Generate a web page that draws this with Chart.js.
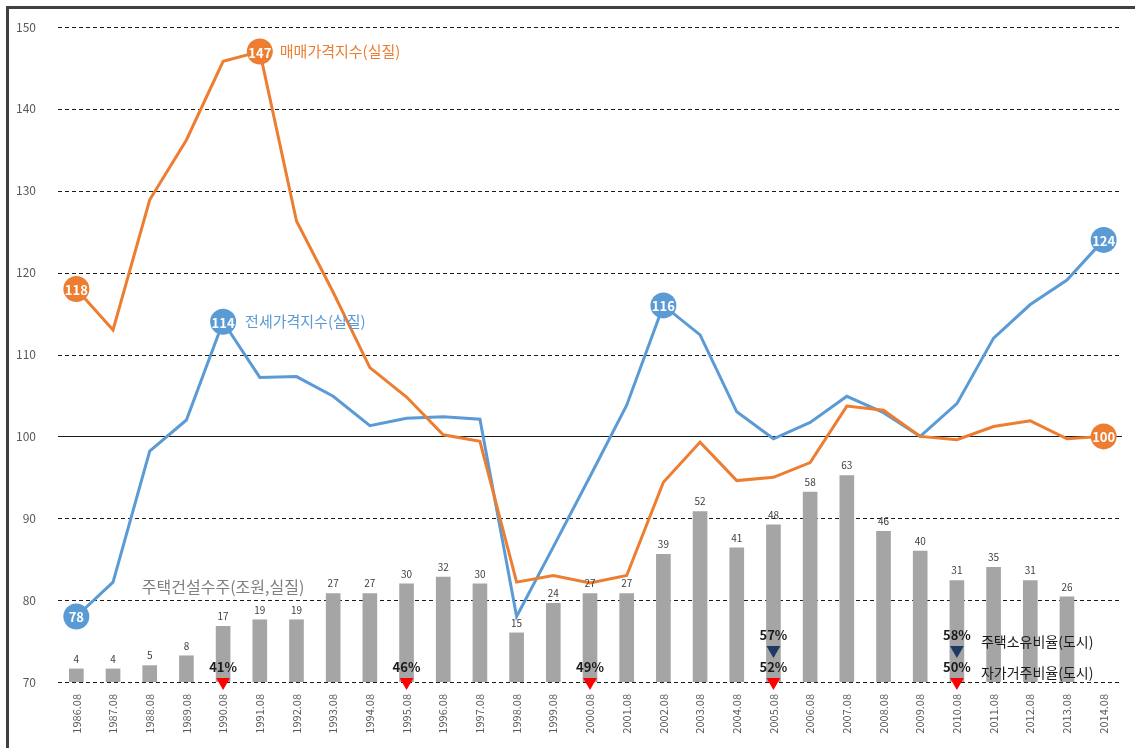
<!DOCTYPE html>
<html>
<head>
<meta charset="utf-8">
<script src="https://cdn.jsdelivr.net/npm/chart.js@4.4.1/dist/chart.umd.min.js"></script>
<style>
    html, body { margin: 0; padding: 0; background: #fff; }
    #wrap { position: relative; width: 1135px; height: 748px; }
</style>
</head>
<body>
<div id="wrap"><canvas id="housingChart"></canvas></div>
<script>
// Data
const years = ['1986.08', '1987.08', '1988.08', '1989.08', '1990.08', '1991.08', '1992.08', '1993.08',
    '1994.08', '1995.08', '1996.08', '1997.08', '1998.08', '1999.08', '2000.08', '2001.08', '2002.08',
    '2003.08', '2004.08', '2005.08', '2006.08', '2007.08', '2008.08', '2009.08', '2010.08', '2011.08',
    '2012.08', '2013.08', '2014.08'];
const saleIndex = [118, 113.0, 128.9, 136.2, 145.8, 147, 126.3, 117.6, 108.4, 104.8, 100.2, 99.4, 82.2,
    83.0, 82.1, 83.0, 94.4, 99.3, 94.6, 95.0, 96.8, 103.7, 103.2, 100.0, 99.6, 101.2, 101.9, 99.7, 100];
const jeonseIndex = [78, 82.2, 98.2, 102.0, 114, 107.2, 107.3, 104.9, 101.3, 102.2, 102.4, 102.1, 78.0,
    86.5, 95.1, 103.8, 116, 112.4, 103.0, 99.7, 101.7, 104.9, 102.9, 100.0, 104.0, 112.0, 116.1, 119.1, 124];
const orders = [4, 4, 5, 8, 17, 19, 19, 27, 27, 30, 32, 30, 15, 24, 27, 27, 39, 52, 41, 48, 58, 63, 46,
    40, 31, 35, 31, 26, null];
const saleMarks = [0, 5, 28];
const jeonseMarks = [0, 4, 16, 28];
const selfOccYears = ['1990.08', '1995.08', '2000.08', '2005.08', '2010.08'];
const selfOccRates = [41, 46, 49, 52, 50];
const ownYears = ['2005.08', '2010.08'];
const ownRates = [57, 58];
const yTicks = [70, 80, 90, 100, 110, 120, 130, 140, 150];

const ORANGE = '#ED7D31';
const BLUE = '#5B9BD5';
const BAR = '#A5A5A5';
const KR = "'Noto Sans CJK KR', 'Noto Sans', sans-serif";

Chart.defaults.font.family = KR;

// grid lines, labels and frame
const annotate = {
    id: 'annotate',
    beforeDatasetsDraw(chart) {
        const { ctx, chartArea, scales } = chart;
        ctx.save();
        yTicks.forEach(v => {
            const y = Math.round(scales.y.getPixelForValue(v)) + 0.5;
            ctx.beginPath();
            ctx.lineWidth = 1;
            ctx.strokeStyle = '#1a1a1a';
            ctx.setLineDash(v === 100 ? [] : [4, 3]);
            ctx.moveTo(chartArea.left, y);
            ctx.lineTo(chartArea.right, y);
            ctx.stroke();
        });
        ctx.restore();
    },
    afterDatasetsDraw(chart) {
        const { ctx, scales } = chart;
        ctx.save();
        ctx.textAlign = 'center';
        ctx.textBaseline = 'middle';

        // bar values
        const barMeta = chart.getDatasetMeta(0);
        ctx.font = '10px ' + KR;
        ctx.fillStyle = '#404040';
        barMeta.data.forEach((el, i) => {
            if (orders[i] == null) return;
            ctx.fillText(orders[i], el.x, el.y - 10);
        });

        // marker values
        const markText = (dsIndex, marks, values) => {
            const meta = chart.getDatasetMeta(dsIndex);
            ctx.font = 'bold 13px ' + KR;
            ctx.fillStyle = '#fff';
            marks.forEach(i => {
                const el = meta.data[i];
                ctx.fillText(Math.round(values[i]), el.x, el.y + 1);
            });
            return meta;
        };
        const saleMeta = markText(1, saleMarks, saleIndex);
        const jeonseMeta = markText(2, jeonseMarks, jeonseIndex);

        // series names
        ctx.textAlign = 'left';
        ctx.font = '15px ' + KR;
        ctx.fillStyle = ORANGE;
        ctx.fillText('매매가격지수(실질)', saleMeta.data[5].x + 20, saleMeta.data[5].y);
        ctx.fillStyle = BLUE;
        ctx.fillText('전세가격지수(실질)', jeonseMeta.data[4].x + 22, jeonseMeta.data[4].y);
        ctx.textAlign = 'center';
        ctx.font = '16px ' + KR;
        ctx.fillStyle = '#7f7f7f';
        ctx.fillText('주택건설수주(조원,실질)', scales.x.getPixelForValue(4), scales.y.getPixelForValue(81.6));

        // ratio triangles
        ctx.font = 'bold 13px ' + KR;
        ctx.fillStyle = '#1a1a1a';
        const selfMeta = chart.getDatasetMeta(3);
        selfMeta.data.forEach((el, i) => ctx.fillText(selfOccRates[i] + '%', el.x, el.y - 15));
        const ownMeta = chart.getDatasetMeta(4);
        ownMeta.data.forEach((el, i) => ctx.fillText(ownRates[i] + '%', el.x, el.y - 15));

        ctx.textAlign = 'left';
        ctx.font = '14px ' + KR;
        const lastOwn = ownMeta.data[ownMeta.data.length - 1];
        const lastSelf = selfMeta.data[selfMeta.data.length - 1];
        ctx.fillText('주택소유비율(도시)', lastOwn.x + 24, lastOwn.y - 8);
        ctx.fillText('자가거주비율(도시)', lastSelf.x + 24, lastSelf.y - 9);

        // frame
        ctx.strokeStyle = '#404040';
        ctx.lineWidth = 3;
        ctx.beginPath();
        ctx.moveTo(7.5, chart.height);
        ctx.lineTo(7.5, 7.5);
        ctx.lineTo(chart.width, 7.5);
        ctx.stroke();
        ctx.restore();
    }
};

const markRadius = marks => c => (marks.includes(c.dataIndex) ? 13 : 0);

new Chart(document.getElementById('housingChart'), {
    data: {
        labels: years,
        datasets: [{
            type: 'bar',
            label: '주택건설수주(조원,실질)',
            data: orders,
            yAxisID: 'y2',
            backgroundColor: BAR,
            barThickness: 14,
            order: 3
        }, {
            type: 'line',
            label: '매매가격지수(실질)',
            data: saleIndex,
            borderColor: ORANGE,
            borderWidth: 3,
            backgroundColor: ORANGE,
            pointRadius: markRadius(saleMarks),
            pointHoverRadius: markRadius(saleMarks),
            pointBorderWidth: 0,
            tension: 0,
            order: 1
        }, {
            type: 'line',
            label: '전세가격지수(실질)',
            data: jeonseIndex,
            borderColor: BLUE,
            borderWidth: 3,
            backgroundColor: BLUE,
            pointRadius: markRadius(jeonseMarks),
            pointHoverRadius: markRadius(jeonseMarks),
            pointBorderWidth: 0,
            tension: 0,
            order: 2
        }, {
            type: 'line',
            label: '자가거주비율(도시)',
            data: selfOccYears.map(x => ({ x, y: 70 })),
            showLine: false,
            pointStyle: 'triangle',
            rotation: 180,
            pointRadius: 8,
            pointBorderWidth: 0,
            backgroundColor: '#FF0000',
            clip: false,
            order: 0
        }, {
            type: 'line',
            label: '주택소유비율(도시)',
            data: ownYears.map(x => ({ x, y: 73.9 })),
            showLine: false,
            pointStyle: 'triangle',
            rotation: 180,
            pointRadius: 8,
            pointBorderWidth: 0,
            backgroundColor: '#1F3864',
            clip: false,
            order: 0
        }]
    },
    options: {
        responsive: true,
        maintainAspectRatio: false,
        animation: false,
        layout: { padding: { top: 27, right: 13, left: 0, bottom: 0 } },
        plugins: {
            legend: { display: false },
            tooltip: { enabled: false }
        },
        scales: {
            x: {
                offset: true,
                grid: { display: false },
                border: { display: false },
                ticks: {
                    color: '#595959',
                    font: { size: 11 },
                    minRotation: 90,
                    maxRotation: 90,
                    padding: 4
                },
                afterFit: s => { s.height = 66; }
            },
            y: {
                min: 70, max: 150,
                grid: { display: false },
                border: { display: false },
                ticks: { stepSize: 10, color: '#595959', font: { size: 12 }, padding: 14 },
                afterFit: s => { s.width = 58; }
            },
            y2: {
                display: false,
                min: 0, max: 200
            }
        }
    },
    plugins: [annotate]
});
</script>
</body>
</html>
